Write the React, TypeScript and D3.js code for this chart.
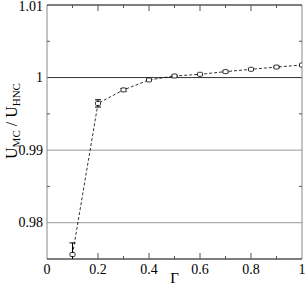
import React, { useEffect, useRef } from 'react';
import * as d3 from 'd3';

const gammas = [0.1, 0.2, 0.3, 0.4, 0.5, 0.6, 0.7, 0.8, 0.9, 1.0];
const ratios = [0.97562, 0.99644, 0.9983, 0.99967, 1.00022, 1.00045, 1.00082, 1.00114, 1.00145, 1.00173];
const errors = [0.0016, 0.0005, 0.0002, 0.0001, 0.0001, 0.0001, 0.0001, 0.0001, 0.0001, 0.0001];
const xTicks = [0, 0.2, 0.4, 0.6, 0.8, 1];
const xMinor = [0.1, 0.3, 0.5, 0.7, 0.9];
const yTicks = [0.98, 0.99, 1, 1.01];
const yMinor = [0.985, 0.995, 1.005];
const gridLines = [0.98, 0.99, 1];

const App: React.FC = () => {
  const svgRef = useRef<SVGSVGElement | null>(null);

  useEffect(() => {
    const svg = d3.select(svgRef.current);
    svg.selectAll('*').remove();
    const width = 306;
    const height = 287;
    const margin = { top: 5, right: 4, bottom: 28, left: 47 };
    const font = "'Liberation Serif', 'Times New Roman', Times, serif";

    const x = d3.scaleLinear().domain([0, 1]).range([margin.left, width - margin.right]);
    const y = d3.scaleLinear().domain([0.975, 1.01]).range([height - margin.bottom, margin.top]);
    const [x0, x1] = x.range();
    const [y0, y1] = y.range();

    svg
      .append('defs')
      .append('clipPath')
      .attr('id', 'plotclip')
      .append('rect')
      .attr('x', x0)
      .attr('y', y1)
      .attr('width', x1 - x0)
      .attr('height', y0 - y1);

    // grid lines
    svg
      .append('g')
      .selectAll('line')
      .data(gridLines)
      .enter()
      .append('line')
      .attr('x1', x0)
      .attr('x2', x1)
      .attr('y1', d => y(d))
      .attr('y2', d => y(d))
      .attr('stroke', d => (d === 1 ? '#333' : '#999'))
      .attr('stroke-width', 1);

    // frame
    const frame = svg.append('g').attr('fill', 'none');
    frame.append('line').attr('x1', x0).attr('x2', x0).attr('y1', y0).attr('y2', y1).attr('stroke', '#888');
    frame.append('line').attr('x1', x1).attr('x2', x1).attr('y1', y0).attr('y2', y1).attr('stroke', '#888');
    frame.append('line').attr('x1', x0).attr('x2', x1).attr('y1', y1).attr('y2', y1).attr('stroke', '#000');
    frame.append('line').attr('x1', x0).attr('x2', x1).attr('y1', y0).attr('y2', y0).attr('stroke', '#000');

    // ticks (inward)
    const ticks = svg.append('g').attr('stroke', '#555').attr('stroke-width', 1);
    const addX = (vals: number[], len: number) => {
      vals.forEach(v => {
        ticks.append('line').attr('x1', x(v)).attr('x2', x(v)).attr('y1', y0).attr('y2', y0 - len);
        ticks.append('line').attr('x1', x(v)).attr('x2', x(v)).attr('y1', y1).attr('y2', y1 + len);
      });
    };
    const addY = (vals: number[], len: number) => {
      vals.forEach(v => {
        ticks.append('line').attr('y1', y(v)).attr('y2', y(v)).attr('x1', x0).attr('x2', x0 + len);
        ticks.append('line').attr('y1', y(v)).attr('y2', y(v)).attr('x1', x1).attr('x2', x1 - len);
      });
    };
    addX(xTicks.slice(1, -1), 6);
    addX(xMinor, 3);
    addY(yMinor, 3);

    // tick labels
    svg
      .append('g')
      .selectAll('text')
      .data(xTicks)
      .enter()
      .append('text')
      .attr('x', d => x(d))
      .attr('y', y0 + 15)
      .attr('text-anchor', 'middle')
      .attr('font-family', font)
      .attr('font-size', 14)
      .text(d => d3.format('~g')(d));

    svg
      .append('g')
      .selectAll('text')
      .data(yTicks)
      .enter()
      .append('text')
      .attr('x', x0 - 4)
      .attr('y', d => Math.max(y(d) + 4.5, 10.5))
      .attr('text-anchor', 'end')
      .attr('font-family', font)
      .attr('font-size', 14)
      .text(d => d3.format('~g')(d));

    // axis titles
    svg
      .append('text')
      .attr('x', x(0.5))
      .attr('y', height - 4)
      .attr('text-anchor', 'middle')
      .attr('font-family', font)
      .attr('font-size', 15)
      .text('Γ');

    const yl = svg
      .append('text')
      .attr('transform', `translate(17,121) rotate(-90)`)
      .attr('text-anchor', 'middle')
      .attr('font-family', font)
      .attr('font-size', 16);
    yl.append('tspan').text('U');
    yl.append('tspan').attr('font-size', 11).attr('dy', 3).text('MC');
    yl.append('tspan').attr('dy', -3).text(' / U');
    yl.append('tspan').attr('font-size', 11).attr('dy', 3).text('HNC');

    // data
    const pts = gammas.map((g, i) => ({ g, r: ratios[i], e: errors[i] }));
    const plot = svg.append('g').attr('clip-path', 'url(#plotclip)');

    const line = d3
      .line<{ g: number; r: number }>()
      .x(d => x(d.g))
      .y(d => y(d.r));
    plot
      .append('path')
      .datum(pts)
      .attr('d', line)
      .attr('fill', 'none')
      .attr('stroke', '#000')
      .attr('stroke-width', 0.8)
      .attr('stroke-dasharray', '3,2');

    const eb = plot.append('g').attr('stroke', '#000').attr('stroke-width', 1);
    pts.forEach(d => {
      const cx = x(d.g);
      eb.append('line').attr('x1', cx).attr('x2', cx).attr('y1', y(d.r - d.e)).attr('y2', y(d.r + d.e));
      [d.r - d.e, d.r + d.e].forEach(v => {
        eb.append('line').attr('x1', cx - 3).attr('x2', cx + 3).attr('y1', y(v)).attr('y2', y(v));
      });
    });

    plot
      .append('g')
      .selectAll('rect')
      .data(pts)
      .enter()
      .append('rect')
      .attr('x', d => x(d.g) - 2.5)
      .attr('y', d => y(d.r) - 2)
      .attr('width', 5)
      .attr('height', 4)
      .attr('rx', 1)
      .attr('fill', '#fff')
      .attr('stroke', '#000')
      .attr('stroke-width', 0.8);
  }, []);

  return (
    <div>
      <svg
        ref={svgRef}
        width={306}
        height={287}
        style={{ position: 'absolute', left: 0, top: 0, background: '#fff' }}
      ></svg>
    </div>
  );
};

export default App;
